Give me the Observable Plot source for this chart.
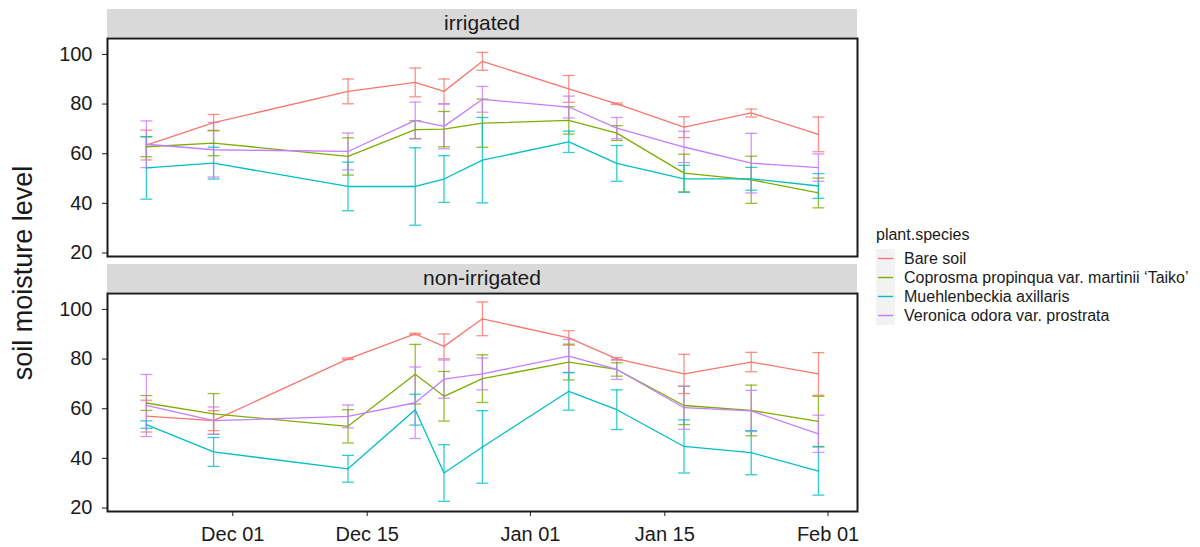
<!DOCTYPE html>
<html><head><meta charset="utf-8">
<script src="https://cdn.jsdelivr.net/npm/d3@7"></script>
<script src="https://cdn.jsdelivr.net/npm/@observablehq/plot@0.6"></script>
<style>
body{margin:0;background:#fff;font-family:"Liberation Sans",Arial,sans-serif;}
#wrap{position:relative;width:1200px;height:547px;overflow:hidden;background:#fff;}
#wrap > svg{position:absolute;left:0;}
.strip{position:absolute;left:107px;width:750px;height:28px;background:#d9d9d9;color:#1a1a1a;font-size:21px;text-align:center;line-height:28px;}
.ytitle{position:absolute;left:23px;top:273px;transform:translate(-50%,-50%) rotate(-90deg);font-size:27px;color:#1a1a1a;white-space:nowrap;}
.legend{position:absolute;left:876px;top:226px;color:#1a1a1a;font-size:16px;}
.legend .title{height:23px;line-height:18px;}
.legend .row{position:relative;height:19px;line-height:19px;white-space:nowrap;}
.legend .key{position:absolute;left:0;top:0;width:19px;height:19px;background:#f2f2f2;}
.legend .key svg{position:absolute;left:0;top:0;}
.legend .lab{position:absolute;left:28px;top:0;}
</style></head><body><div id="wrap"></div>
<script>
const dates = ["2019-11-22","2019-11-29","2019-12-13","2019-12-20","2019-12-23","2019-12-27","2020-01-05","2020-01-10","2020-01-17","2020-01-24","2020-01-31"];
const species = ["Bare soil","Coprosma propinqua var. martinii \u2018Taiko\u2019","Muehlenbeckia axillaris","Veronica odora var. prostrata"];
const colors = ["#F8766D","#7CAE00","#00BFC4","#C77CFF"];
const panels = ["irrigated","non-irrigated"];
const xTicks = ["2019-12-01","2019-12-15","2020-01-01","2020-01-15","2020-02-01"];
const yTicks = [20,40,60,80,100];
const xDomain = ["2019-11-17T22:48Z","2020-02-04T01:40Z"];
const yDomain = [18.6,106.4];

// irrigated: means and standard errors, one row per species (order as above)
const irrigatedMean = [
  [63.5,72.5,85.1,88.7,85.1,97.2,86.1,80.1,70.7,76.4,67.8],
  [62.8,64.3,58.9,69.7,69.9,72.3,73.4,68.3,52.2,49.5,44.2],
  [54.3,56.2,46.8,46.8,49.8,57.4,64.8,56.1,49.9,49.9,47.0],
  [63.8,61.6,60.9,73.4,71.0,81.9,78.8,70.3,62.7,56.2,54.4]
];
const irrigatedSE = [
  [6.0,3.3,5.0,5.8,5.0,3.6,5.4,0.3,4.2,1.6,7.0],
  [4.0,5.1,7.5,3.6,7.1,9.7,5.5,3.0,7.6,9.5,6.0],
  [12.6,6.4,9.8,15.6,9.4,17.2,4.3,7.2,5.4,4.6,5.0],
  [9.4,11.0,7.4,7.4,9.0,5.2,4.4,4.3,6.3,12.0,5.5]
];
// non-irrigated
const nonIrrigatedMean = [
  [57.0,55.2,80.1,90.1,85.1,96.2,88.5,80.1,74.0,78.8,74.0],
  [62.3,57.9,52.9,73.9,65.0,72.1,78.8,75.8,61.3,59.3,54.9],
  [53.6,42.6,35.8,59.6,34.1,44.6,67.0,59.6,44.8,42.3,34.9],
  [61.3,55.2,56.9,62.4,71.9,74.0,81.2,75.8,60.4,59.1,49.9]
];
const nonIrrigatedSE = [
  [6.4,4.0,0.3,0.3,5.0,6.8,2.9,0.5,7.9,3.9,8.6],
  [3.0,8.2,6.7,12.0,10.0,9.6,7.2,2.7,7.7,10.2,10.1],
  [1.5,5.8,5.4,6.2,11.4,14.6,7.6,8.0,10.7,8.9,9.7],
  [12.5,5.5,4.6,14.4,7.7,6.4,6.7,4.0,8.7,8.3,7.5]
];

const capHalf = 0.62 * 864e5;
const font = '"Liberation Sans", Arial, sans-serif';

function buildRows(means, ses) {
  const rows = [];
  species.forEach((s, i) => dates.forEach((d, j) => {
    const t = new Date(d);
    rows.push({species: s, date: t, t0: new Date(+t - capHalf), t1: new Date(+t + capHalf),
      mean: means[i][j], lo: means[i][j] - ses[i][j], hi: means[i][j] + ses[i][j]});
  }));
  return rows;
}

function panel(means, ses, showX) {
  const rows = buildRows(means, ses);
  const height = showX ? 292 : 260;
  const marginBottom = showX ? 36 : 4;
  return Plot.plot({
    width: 860, height, marginTop: 38, marginBottom, marginLeft: 107, marginRight: 3,
    style: {fontFamily: font, fontSize: "20px", color: "#1a1a1a", background: "transparent", overflow: "visible"},
    x: {type: "utc", domain: xDomain.map(d => new Date(d)), axis: showX ? "bottom" : null,
        ticks: xTicks.map(d => new Date(d)), tickFormat: d3.utcFormat("%b %d"),
        tickSize: 5, tickPadding: 10, label: null},
    y: {domain: yDomain, ticks: yTicks, tickSize: 5, tickPadding: 10, label: null},
    color: {domain: species, range: colors},
    marks: [
      Plot.ruleX(rows, {x: "date", y1: "lo", y2: "hi", stroke: "species", strokeWidth: 1.3, strokeOpacity: 0.8}),
      Plot.link(rows, {x1: "t0", x2: "t1", y1: "lo", y2: "lo", stroke: "species", strokeWidth: 1.3, strokeOpacity: 0.8}),
      Plot.link(rows, {x1: "t0", x2: "t1", y1: "hi", y2: "hi", stroke: "species", strokeWidth: 1.3, strokeOpacity: 0.8}),
      Plot.line(rows, {x: "date", y: "mean", z: "species", stroke: "species", strokeWidth: 1.3}),
      Plot.frame({stroke: "#1a1a1a", strokeWidth: 2})
    ]
  });
}

const wrap = document.getElementById("wrap");
const topPanel = panel(irrigatedMean, irrigatedSE, false);
topPanel.style.top = "0px";
wrap.appendChild(topPanel);
const bottomPanel = panel(nonIrrigatedMean, nonIrrigatedSE, true);
bottomPanel.style.top = "255px";
wrap.appendChild(bottomPanel);

[[panels[0], 9], [panels[1], 264]].forEach(([label, y]) => {
  const s = document.createElement("div");
  s.className = "strip";
  s.style.top = y + "px";
  s.textContent = label;
  wrap.appendChild(s);
});

const yt = document.createElement("div");
yt.className = "ytitle";
yt.textContent = "soil moisture level";
wrap.appendChild(yt);

const svgNS = "http://www.w3.org/2000/svg";
const leg = document.createElement("div");
leg.className = "legend";
const lt = document.createElement("div");
lt.className = "title";
lt.textContent = "plant.species";
leg.appendChild(lt);
species.forEach((s, i) => {
  const r = document.createElement("div");
  r.className = "row";
  const k = document.createElement("div");
  k.className = "key";
  const sv = document.createElementNS(svgNS, "svg");
  sv.setAttribute("width", 19); sv.setAttribute("height", 19);
  const ln = document.createElementNS(svgNS, "line");
  ln.setAttribute("x1", 2); ln.setAttribute("x2", 17);
  ln.setAttribute("y1", 9.5); ln.setAttribute("y2", 9.5);
  ln.setAttribute("stroke", colors[i]); ln.setAttribute("stroke-width", 1.4);
  sv.appendChild(ln);
  k.appendChild(sv);
  const l = document.createElement("span");
  l.className = "lab";
  l.textContent = s;
  r.appendChild(k); r.appendChild(l);
  leg.appendChild(r);
});
wrap.appendChild(leg);
</script></body></html>
